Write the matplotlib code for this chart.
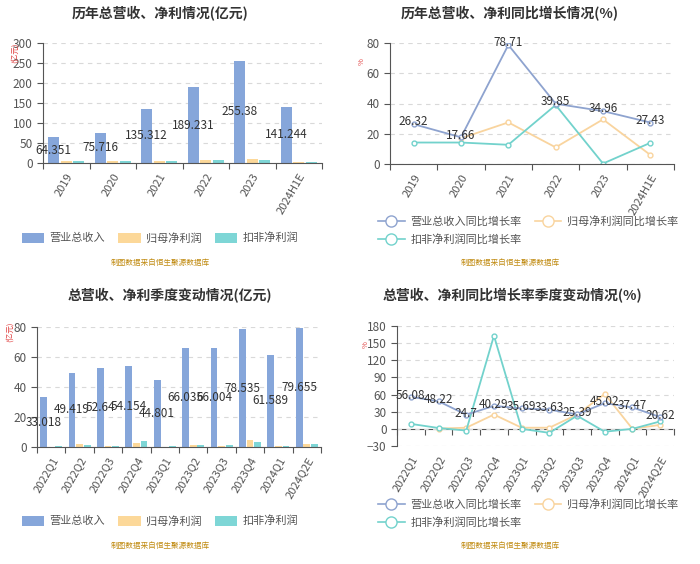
import numpy as np
import matplotlib
matplotlib.use("Agg")
import matplotlib.pyplot as plt
from matplotlib.lines import Line2D
from matplotlib.patches import Patch

plt.rcParams['font.family'] = ['Noto Sans CJK SC', 'DejaVu Sans']

# ---- data ----
years = ['2019', '2020', '2021', '2022', '2023', '2024H1E']
rev_y = [64.351, 75.716, 135.312, 189.231, 255.38, 141.244]
np_y = [4.2, 4.5, 6.0, 6.3, 8.8, 3.0]
dnp_y = [3.8, 4.2, 5.2, 7.0, 8.0, 2.8]

rev_g_y = [26.32, 17.66, 78.71, 39.85, 34.96, 27.43]
np_g_y = [np.nan, 17.0, 27.5, 11.0, 29.5, 6.0]
dnp_g_y = [14.2, 14.2, 12.7, 39.0, 0.3, 14.0]

quarters = ['2022Q1', '2022Q2', '2022Q3', '2022Q4', '2023Q1',
            '2023Q2', '2023Q3', '2023Q4', '2024Q1', '2024Q2E']
rev_q = [33.018, 49.419, 52.64, 54.154, 44.801, 66.035, 66.004, 78.535, 61.589, 79.655]
np_q = [0.3, 1.8, 1.0, 2.9, 0.3, 1.6, 1.0, 4.7, 0.4, 1.8]
dnp_q = [0.5, 1.6, 0.8, 4.0, 0.4, 1.6, 1.3, 3.6, 0.4, 2.0]

rev_g_q = [56.08, 48.22, 24.7, 40.29, 35.69, 33.63, 25.39, 45.02, 37.47, 20.62]
np_g_q = [np.nan, 0.5, 2.0, 25.0, 2.0, 2.0, 25.0, 61.0, 0.0, 7.0]
dnp_g_q = [8.7, 1.5, -3.0, 163.0, 0.0, -7.0, 23.0, -5.0, 0.0, 13.0]

bar_names = ['营业总收入', '归母净利润', '扣非净利润']
line_names = ['营业总收入同比增长率', '归母净利润同比增长率', '扣非净利润同比增长率']
source = '制图数据来自恒生聚源数据库'

# ---- styles ----
C_BAR = ['#86a6da', '#fcd899', '#7ed6d6']
C_LINE = ['#8ea3cf', '#f9d49e', '#72d2cc']
GRID = '#d9d9d9'
AXC = '#555555'
TXT = '#333333'

W, H = 700, 564
fig = plt.figure(figsize=(W / 100, H / 100), dpi=100)


def px_axes(left, right, top, bottom):
    return fig.add_axes([left / W, 1 - bottom / H, (right - left) / W, (bottom - top) / H])


def style_axes(ax, cats, ymin, ymax, step):
    n = len(cats)
    ax.set_xlim(-0.5, n - 0.5)
    ax.set_ylim(ymin, ymax)
    ax.set_yticks(np.arange(ymin, ymax + 0.1, step))
    ax.set_xticks(range(n))
    ax.set_xticklabels(cats, rotation=60, ha='right', rotation_mode='anchor',
                       fontsize=8, color='#555555')
    ax.tick_params(axis='x', which='major', length=0, pad=6)
    ax.tick_params(axis='y', length=4, color=AXC, labelsize=8.5, labelcolor='#555555')
    for s in ['top', 'right']:
        ax.spines[s].set_visible(False)
    ax.spines['left'].set_color(AXC)
    ax.spines['bottom'].set_color(AXC)
    ax.grid(axis='y', color=GRID, linestyle=(0, (4, 4)), linewidth=0.8)
    ax.set_axisbelow(True)
    # category boundary ticks on the zero line
    loc = (0 - ymin) / (ymax - ymin)
    sec = ax.secondary_xaxis(loc)
    sec.set_xticks(np.arange(-0.5, n, 1))
    sec.tick_params(axis='x', length=4, color=AXC, labelbottom=False, labeltop=False)
    sec.spines['bottom'].set_color(AXC)
    if ymin < 0:
        ax.spines['bottom'].set_visible(False)
    else:
        sec.spines['bottom'].set_visible(False)


def bar_panel(ax, cats, rev, np_, dnp, ymax, step):
    x = np.arange(len(cats))
    w = 0.24
    ax.bar(x - 0.27, rev, w, color=C_BAR[0])
    ax.bar(x, np_, w, color=C_BAR[1])
    ax.bar(x + 0.27, dnp, w, color=C_BAR[2])
    for xi, v in zip(x, rev):
        ax.text(xi - 0.27, v / 2, f'{v:g}', ha='center', va='center', fontsize=8.5, color=TXT)
    style_axes(ax, cats, 0, ymax, step)


def line_panel(ax, cats, rev, np_, dnp, ymin, ymax, step, dy):
    x = np.arange(len(cats))
    for vals, c in [(np_, C_LINE[1]), (dnp, C_LINE[2]), (rev, C_LINE[0])]:
        ax.plot(x, vals, color=c, linewidth=1.3, marker='o', markersize=3.5,
                markerfacecolor='white', markeredgecolor=c, markeredgewidth=1)
    for xi, v in zip(x, rev):
        ax.text(xi, v + dy, f'{v:g}', ha='center', va='center', fontsize=8.5, color=TXT)
    style_axes(ax, cats, ymin, ymax, step)


# top-left
ax1 = px_axes(43, 322, 43, 163)
bar_panel(ax1, years, rev_y, np_y, dnp_y, 300, 50)
fig.text(160 / W, 1 - 14 / H, '历年总营收、净利情况(亿元)', ha='center', va='center',
         fontsize=10, fontweight='bold', color='#333333')
fig.text(15 / W, 1 - 53 / H, '(亿元)', rotation=90, ha='center', va='center', fontsize=5.5, color='#e04040')

# top-right
ax2 = px_axes(390, 674, 43, 164)
line_panel(ax2, years, rev_g_y, np_g_y, dnp_g_y, 0, 80, 20, 1.5)
fig.text(510 / W, 1 - 14 / H, '历年总营收、净利同比增长情况(%)', ha='center', va='center',
         fontsize=10, fontweight='bold', color='#333333')
fig.text(362 / W, 1 - 62 / H, '%', rotation=90, ha='center', va='center', fontsize=5.5, color='#e04040')

# bottom-left
ax3 = px_axes(37, 321, 327, 447)
bar_panel(ax3, quarters, rev_q, np_q, dnp_q, 80, 20)
fig.text(170 / W, 1 - 296 / H, '总营收、净利季度变动情况(亿元)', ha='center', va='center',
         fontsize=10, fontweight='bold', color='#333333')
fig.text(10 / W, 1 - 332 / H, '(亿元)', rotation=90, ha='center', va='center', fontsize=5.5, color='#e04040')

# bottom-right
ax4 = px_axes(397, 674, 326, 446)
line_panel(ax4, quarters, rev_g_q, np_g_q, dnp_g_q, -30, 180, 30, 3)
fig.text(512 / W, 1 - 296 / H, '总营收、净利同比增长率季度变动情况(%)', ha='center', va='center',
         fontsize=10, fontweight='bold', color='#333333')
fig.text(366 / W, 1 - 345 / H, '%', rotation=90, ha='center', va='center', fontsize=5.5, color='#e04040')

# legends
bar_handles = [Patch(facecolor=c, edgecolor='none') for c in C_BAR]
for yy in [238, 521]:
    fig.legend(bar_handles, bar_names, ncol=3, loc='center', bbox_to_anchor=(160 / W, 1 - yy / H),
               frameon=False, fontsize=8, labelcolor='#555555', handlelength=2.0, handleheight=1.0,
               handletextpad=0.5, columnspacing=1.2)

line_handles = [Line2D([], [], color=c, linewidth=1.2, marker='o', markersize=8,
                       markerfacecolor='white', markeredgecolor=c) for c in C_LINE]
order = [0, 2, 1]
for yy in [206, 489]:
    fig.legend([line_handles[i] for i in order], [line_names[i] for i in order], ncol=2,
               loc='upper left', bbox_to_anchor=(368 / W, 1 - yy / H), frameon=False, fontsize=8,
               labelcolor='#555555', handlelength=2.4, handletextpad=0.5, columnspacing=1.2,
               labelspacing=0.6)

# source notes
for xx, yy in [(160, 263), (510, 263), (160, 546), (510, 546)]:
    fig.text(xx / W, 1 - yy / H, source, ha='center', va='center', fontsize=5.5, color='#c08a10')

fig.savefig('out.png', dpi=100)
